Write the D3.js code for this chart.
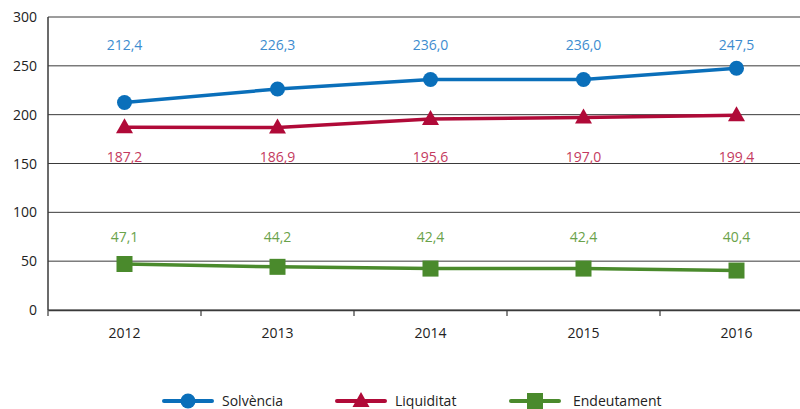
<!DOCTYPE html>
<html>
<head>
<meta charset="utf-8">
<script src="https://cdn.jsdelivr.net/npm/d3@7"></script>
<style>
  body { margin: 0; background: #fff; }
  svg { display: block; font-family: "Open Sans", "Noto Sans", sans-serif; }
</style>
</head>
<body>
<div id="chart"></div>
<script>
var years = ["2012", "2013", "2014", "2015", "2016"];
var solvencia = [212.4, 226.3, 236.0, 236.0, 247.5];
var liquiditat = [187.2, 186.9, 195.6, 197.0, 199.4];
var endeutament = [47.1, 44.2, 42.4, 42.4, 40.4];
var yTicks = [0, 50, 100, 150, 200, 250, 300];
var seriesNames = ["Solvència", "Liquiditat", "Endeutament"];

var width = 800, height = 409;
var plotLeft = 48, plotTop = 17, plotBottom = 310;

var svg = d3.select("#chart").append("svg")
    .attr("width", width)
    .attr("height", height);

var x = d3.scaleBand().domain(years).range([plotLeft, plotLeft + 5 * 153]);
var y = d3.scaleLinear().domain([0, 300]).range([plotBottom, plotTop]);

// gridlines
svg.append("g")
    .selectAll("line")
    .data(yTicks).enter()
    .append("line")
    .attr("x1", plotLeft).attr("x2", width)
    .attr("y1", function (d) { return y(d); })
    .attr("y2", function (d) { return y(d); })
    .attr("stroke", "#3a3a3a")
    .attr("stroke-width", 1);

// y labels
svg.append("g")
    .selectAll("text")
    .data(yTicks).enter()
    .append("text")
    .attr("x", 37)
    .attr("y", function (d) { return y(d) + 5; })
    .attr("text-anchor", "end")
    .attr("font-size", 14)
    .attr("fill", "#222")
    .text(function (d) { return d; });

// y axis line
svg.append("line")
    .attr("x1", plotLeft).attr("x2", plotLeft)
    .attr("y1", plotTop).attr("y2", plotBottom)
    .attr("stroke", "#3a3a3a").attr("stroke-width", 1.5);

// x axis
var xAxis = svg.append("g")
    .attr("transform", "translate(0," + plotBottom + ")")
    .call(d3.axisBottom(x).tickSize(0).tickPadding(18));
xAxis.attr("font-size", 14).attr("font-family", "\"Open Sans\", \"Noto Sans\", sans-serif");
xAxis.select(".domain").attr("stroke", "#3a3a3a").attr("stroke-width", 1.5);
xAxis.selectAll("text").attr("fill", "#222");

var bounds = years.map(function (d) { return x(d); });
svg.append("g").selectAll("line")
    .data(bounds).enter()
    .append("line")
    .attr("x1", function (d) { return d; }).attr("x2", function (d) { return d; })
    .attr("y1", plotBottom).attr("y2", plotBottom + 6)
    .attr("stroke", "#3a3a3a").attr("stroke-width", 1.2);

var series = [
    { name: seriesNames[0], values: solvencia, color: "#0a6fba", label: "#3d8ccf", shape: "circle", labelY: 266.5 },
    { name: seriesNames[1], values: liquiditat, color: "#b00a38", label: "#c43a60", shape: "triangle", labelY: 151.8 },
    { name: seriesNames[2], values: endeutament, color: "#4a8a2c", label: "#6aa24a", shape: "square", labelY: 70 }
];

function cx(i) { return x(years[i]) + x.bandwidth() / 2; }

function marker(g, shape, color, px, py) {
    if (shape == "circle") {
        g.append("circle").attr("cx", px).attr("cy", py).attr("r", 7.5).attr("fill", color);
    } else if (shape == "triangle") {
        g.append("path")
            .attr("d", "M" + px + "," + (py - 9) + "L" + (px + 8.5) + "," + (py + 6) + "L" + (px - 8.5) + "," + (py + 6) + "Z")
            .attr("fill", color);
    } else {
        g.append("rect").attr("x", px - 8).attr("y", py - 8).attr("width", 16).attr("height", 16).attr("fill", color);
    }
}

var line = d3.line()
    .x(function (d, i) { return cx(i); })
    .y(function (d) { return y(d); });

series.forEach(function (s) {
    var g = svg.append("g");
    g.append("path")
        .datum(s.values)
        .attr("d", line)
        .attr("fill", "none")
        .attr("stroke", s.color)
        .attr("stroke-width", 3.5);
    s.values.forEach(function (v, i) {
        marker(g, s.shape, s.color, cx(i), y(v));
    });
    g.selectAll("text.lbl")
        .data(s.values).enter()
        .append("text")
        .attr("class", "lbl")
        .attr("x", function (d, i) { return cx(i); })
        .attr("y", y(s.labelY))
        .attr("text-anchor", "middle")
        .attr("font-size", 14)
        .attr("fill", s.label)
        .text(function (d) { return d.toFixed(1).replace(".", ","); });
});

// legend
var legendX = [164, 337, 511];
var legendTextX = [222, 395, 573];
var ly = 401;
series.forEach(function (s, i) {
    var g = svg.append("g");
    g.append("line")
        .attr("x1", legendX[i]).attr("x2", legendX[i] + 48)
        .attr("y1", ly).attr("y2", ly)
        .attr("stroke", s.color).attr("stroke-width", 4).attr("stroke-linecap", "round");
    marker(g, s.shape, s.color, legendX[i] + 24, ly);
    g.append("text")
        .attr("x", legendTextX[i]).attr("y", ly + 5)
        .attr("font-size", 14)
        .attr("fill", "#222")
        .text(s.name);
});
</script>
</body>
</html>
